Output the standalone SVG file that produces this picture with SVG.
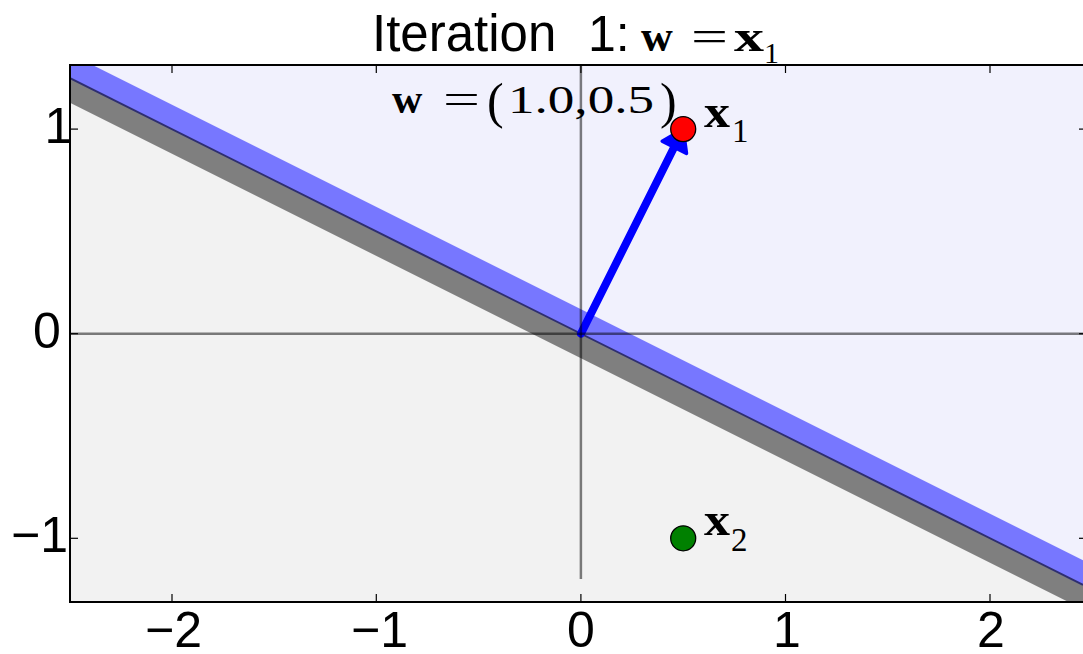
<svg xmlns="http://www.w3.org/2000/svg" width="1083" height="654" viewBox="0 0 1083 654">
  <style>
    .sans { font-family: "Liberation Sans", Arial, sans-serif; fill: #000; }
    .tick { font-size: 50px; }
    .math { font-family: "Liberation Serif", "Times New Roman", serif; fill: #000; }
    .bold { font-weight: bold; }
    .tk { stroke: #000; stroke-width: 1.2; }
    .axline { stroke: #000; stroke-opacity: 0.5; stroke-width: 2.5; fill: none; }
  </style>
  <defs>
    <clipPath id="plot">
      <rect x="70" y="65" width="1013" height="537"/>
    </clipPath>
  </defs>
  <rect x="0" y="0" width="1083" height="654" fill="#ffffff"/>

  <g id="regions" clip-path="url(#plot)">
    <rect x="70" y="65" width="1013" height="537" fill="#F1F1FD"/>
    <polygon points="70,78.25 1083,584.75 1083,602 70,602" fill="#F2F2F2"/>
    <polygon points="70,53.75 1083,560.25 1083,584.75 70,78.25" fill="#7777FF"/>
    <polygon points="70,78.25 1083,584.75 1083,609.25 70,102.75" fill="#7F7F7F"/>
    <line x1="70" y1="78.25" x2="1083" y2="584.75" stroke="#2E2E70" stroke-width="2"/>
  </g>

  <g id="w-vector">
    <line x1="580.9" y1="333.7" x2="675.5" y2="144.5" stroke="#0000FF" stroke-width="8" stroke-linecap="round"/>
    <polygon points="683.2,129.1 686.5,153.5 662.2,141.3" fill="#0000FF" stroke="#0000FF" stroke-width="3.5" stroke-linejoin="round"/>
  </g>

  <g id="axes-lines">
    <line class="axline" x1="70" y1="333.7" x2="1083" y2="333.7"/>
    <line class="axline" x1="580.9" y1="65" x2="580.9" y2="579"/>
  </g>

  <g id="frame">
    <line x1="70" y1="65" x2="1083" y2="65" stroke="#000" stroke-width="2"/>
    <line x1="70" y1="602" x2="1083" y2="602" stroke="#000" stroke-width="2"/>
    <line x1="70" y1="64" x2="70" y2="603" stroke="#000" stroke-width="2"/>
    <g id="ticks">
      <line class="tk" x1="172" y1="602" x2="172" y2="594"/>
      <line class="tk" x1="376.3" y1="602" x2="376.3" y2="594"/>
      <line class="tk" x1="580.9" y1="602" x2="580.9" y2="594"/>
      <line class="tk" x1="785.5" y1="602" x2="785.5" y2="594"/>
      <line class="tk" x1="990" y1="602" x2="990" y2="594"/>
      <line class="tk" x1="172" y1="65" x2="172" y2="73"/>
      <line class="tk" x1="376.3" y1="65" x2="376.3" y2="73"/>
      <line class="tk" x1="580.9" y1="65" x2="580.9" y2="73"/>
      <line class="tk" x1="785.5" y1="65" x2="785.5" y2="73"/>
      <line class="tk" x1="990" y1="65" x2="990" y2="73"/>
      <line class="tk" x1="70" y1="129.1" x2="78" y2="129.1"/>
      <line class="tk" x1="70" y1="333.7" x2="78" y2="333.7"/>
      <line class="tk" x1="70" y1="538.3" x2="78" y2="538.3"/>
      <line class="tk" x1="1079" y1="129.1" x2="1083" y2="129.1"/>
      <line class="tk" x1="1079" y1="333.7" x2="1083" y2="333.7"/>
      <line class="tk" x1="1079" y1="538.3" x2="1083" y2="538.3"/>
    </g>
  </g>

  <g id="tick-labels" class="sans tick">
    <text x="44.6" y="143">1</text>
    <text x="33" y="348">0</text>
    <text x="11" y="552">−1</text>
    <text x="145" y="647">−2</text>
    <text x="351" y="647">−1</text>
    <text x="567" y="647">0</text>
    <text x="773" y="647">1</text>
    <text x="977" y="647">2</text>
  </g>

  <g id="point-x1">
    <circle cx="683.2" cy="129.1" r="12.5" fill="#FF0000" stroke="#000" stroke-width="1.3"/>
    <text class="math bold" x="704" y="127" font-size="46" textLength="26" lengthAdjust="spacingAndGlyphs">x</text>
    <text class="math" x="732" y="142" font-size="33">1</text>
  </g>

  <g id="point-x2">
    <circle cx="683.2" cy="538.3" r="12.5" fill="#008000" stroke="#000" stroke-width="1.3"/>
    <text class="math bold" x="704" y="535" font-size="46" textLength="26" lengthAdjust="spacingAndGlyphs">x</text>
    <text class="math" x="731" y="551" font-size="33">2</text>
  </g>

  <g id="w-label">
    <text class="math bold" x="392" y="113" font-size="42">w</text>
    <text class="math" x="443" y="113" font-size="42" textLength="37" lengthAdjust="spacingAndGlyphs">=</text>
    <text class="math" x="487" y="118" font-size="50">(</text>
    <text class="math" x="508" y="113" font-size="40" textLength="146" lengthAdjust="spacingAndGlyphs">1.0,0.5</text>
    <text class="math" x="660" y="118" font-size="50">)</text>
  </g>

  <g id="title">
    <text class="sans" x="372" y="51" font-size="51">Iteration</text>
    <text class="sans" x="588" y="51" font-size="50">1:</text>
    <text class="math bold" x="641" y="51" font-size="44">w</text>
    <text class="math" x="691" y="51" font-size="44" textLength="37" lengthAdjust="spacingAndGlyphs">=</text>
    <text class="math bold" x="734" y="51" font-size="44" textLength="30" lengthAdjust="spacingAndGlyphs">x</text>
    <text class="math" x="764" y="63" font-size="30">1</text>
  </g>
</svg>
